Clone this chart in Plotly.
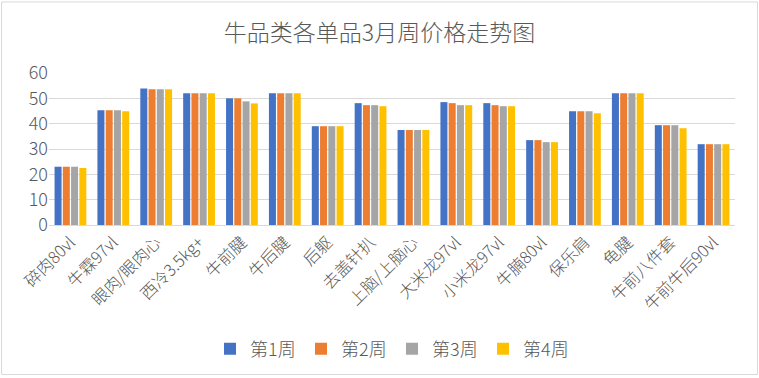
import plotly.graph_objects as go

categories = ["碎肉80vl", "牛霖97vl", "眼肉/眼肉心", "西冷3.5kg+", "牛前腱", "牛后腱", "后躯", "去盖针扒",
              "上脑/上脑心", "大米龙97vl", "小米龙97vl", "牛腩80vl", "保乐肩", "龟腱", "牛前八件套", "牛前牛后90vl"]
week1 = [23.0, 45.3, 53.9, 52.0, 50.0, 52.0, 39.0, 48.1, 37.5, 48.5, 48.1, 33.5, 44.9, 52.0, 39.4, 31.9]
week2 = [23.0, 45.3, 53.6, 52.0, 50.0, 52.0, 39.0, 47.3, 37.5, 48.1, 47.3, 33.5, 44.9, 52.0, 39.4, 31.9]
week3 = [23.0, 45.3, 53.6, 52.0, 48.8, 52.0, 39.0, 47.3, 37.5, 47.3, 46.9, 32.7, 44.9, 52.0, 39.4, 31.9]
week4 = [22.5, 44.9, 53.6, 52.0, 48.0, 52.0, 39.0, 46.9, 37.5, 47.3, 46.9, 32.7, 44.1, 52.0, 38.2, 31.9]
series_names = ["第1周", "第2周", "第3周", "第4周"]
colors = ["#4472C4", "#ED7D31", "#A5A5A5", "#FFC000"]

font_family = "Noto Sans CJK SC, Noto Sans, sans-serif"
fig = go.Figure()
for name, vals, c in zip(series_names, [week1, week2, week3, week4], colors):
    fig.add_trace(go.Bar(x=categories, y=vals, name=name, marker=dict(color=c, line=dict(width=0))))

W, H = 759, 378
ml, mr, mt, mb = 49, 24, 73, 152
pw, ph = W - ml - mr, H - mt - mb

fig.update_layout(
    width=W, height=H,
    margin=dict(l=ml, r=mr, t=mt, b=mb),
    paper_bgcolor="white", plot_bgcolor="white",
    barmode="group", bargap=0.23, bargroupgap=0.15,
    font=dict(family=font_family, color="#595959", size=17, weight=300),
    title=dict(text="牛品类各单品3月周价格走势图", x=0.5, xanchor="center", y=1 - 33 / H, yanchor="middle",
               font=dict(size=23, color="#595959", family=font_family, weight=300)),
    xaxis=dict(tickangle=-45, tickfont=dict(size=16.5, color="#595959", weight=300), showgrid=False,
               showline=True, linecolor="#D9D9D9", linewidth=1.3, ticks=""),
    yaxis=dict(range=[0, 60], dtick=10, tickfont=dict(size=18, color="#595959", weight=300),
               showgrid=True, gridcolor="#D9D9D9", gridwidth=1.3, zeroline=False, showline=False, ticks=""),
    legend=dict(orientation="h", x=0.5, xanchor="center", y=-(349 - (H - mb)) / ph,
                yanchor="middle", font=dict(size=18, color="#595959", weight=300), traceorder="normal",
                itemwidth=30, entrywidth=46, entrywidthmode="pixels"),
    showlegend=True,
    shapes=[dict(type="rect", xref="paper", yref="paper",
                 x0=(1.5 - ml) / pw, x1=(757.5 - ml) / pw,
                 y0=-(376.5 - (H - mb)) / ph, y1=(H - mb - 1.5) / ph,
                 line=dict(color="#D9D9D9", width=1), fillcolor="rgba(0,0,0,0)", layer="below")],
)
fig.write_html("out.html", config={"displayModeBar": False},
               post_script="document.body.style.margin='0';document.body.style.overflow='hidden';")
